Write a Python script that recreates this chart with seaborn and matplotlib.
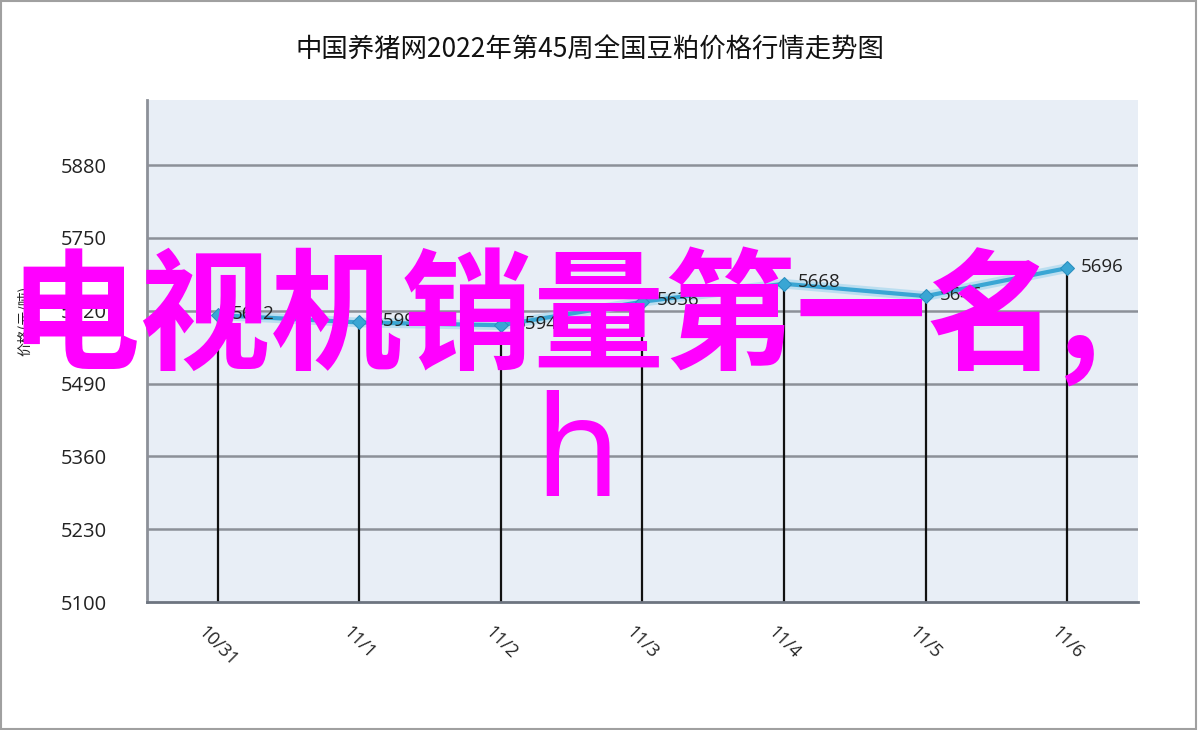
import numpy as np
import pandas as pd
import matplotlib
matplotlib.use("Agg")
import matplotlib.pyplot as plt
import seaborn as sns
from matplotlib.ticker import FixedLocator
from matplotlib.patches import Rectangle

# data
dates = ["10/31", "11/1", "11/2", "11/3", "11/4", "11/5", "11/6"]
prices = [5612, 5599, 5594, 5636, 5668, 5646, 5696]
yticks = [5100, 5230, 5360, 5490, 5620, 5750, 5880]

title = "中国养猪网2022年第45周全国豆粕价格行情走势图"
ylabel = "价格(元/吨)"
overlay_1 = "电视机销量第一名,"
overlay_2 = "h"

df = pd.DataFrame({"date": dates, "price": prices})
df["pos"] = np.arange(len(df))

sns.set_style("white")
plt.rcParams["font.family"] = ["Noto Sans CJK SC", "DejaVu Sans"]
num_font = ["Open Sans", "DejaVu Sans"]

fig = plt.figure(figsize=(12, 7.3), dpi=100)
ax = fig.add_axes([0.1225, 0.1753, 0.8258, 0.6877])
ax.set_facecolor("#e8eef6")

# horizontal grid
for y in yticks[1:]:
    ax.axhline(y, color="#8c9098", lw=1.8, zorder=1)

# drop lines from each point to the axis
ax.vlines(df["pos"], yticks[0], df["price"], color="#111111", lw=1.6, zorder=2)

# glow + line
ax.plot(df["pos"], df["price"], color="#a9d8ee", lw=7, alpha=0.7, zorder=3)
sns.lineplot(data=df, x="pos", y="price", ax=ax, color="#3aa6d4", lw=3,
             marker="D", markersize=7, markeredgecolor="#2a8fbf", zorder=4)

for x, y in zip(df["pos"], df["price"]):
    ax.annotate(f"{y}", (x, y), xytext=(10, 1), textcoords="offset points",
                ha="left", va="center", fontsize=13.5, color="#222222",
                family=num_font, zorder=5)

ax.set_xlim(-0.5, len(dates) - 0.5)
ax.set_ylim(yticks[0], 5996)
ax.set_yticks(yticks)
ax.set_yticklabels([str(v) for v in yticks], family=num_font,
                   fontsize=14.5, color="#222222")
ax.set_xticks(df["pos"])
ax.set_xticklabels(dates, rotation=-45, ha="center", va="top", fontsize=13,
                   family=num_font, color="#222222")
ax.tick_params(axis="x", length=0, pad=15)
ax.tick_params(axis="y", length=0, pad=29)
ax.xaxis.set_minor_locator(FixedLocator(np.arange(len(dates)) + 0.5))
ax.tick_params(axis="x", which="minor", direction="in", length=6, width=1.2, color="#444444")
ax.set_xlabel("")
ax.set_ylabel("")

for side in ["top", "right"]:
    ax.spines[side].set_visible(False)
ax.spines["left"].set_color("#8c9098")
ax.spines["left"].set_linewidth(2)
ax.spines["bottom"].set_color("#6d7480")
ax.spines["bottom"].set_linewidth(2)

fig.text(0.492, 0.931, title, ha="center", va="center", fontsize=19,
         color="#111111", weight="medium")
fig.text(0.021, 0.56, ylabel, rotation=90, ha="center", va="center", fontsize=10,
         color="#222222")

# outer frame
fig.patches.append(Rectangle((0.001, 0.002), 0.996, 0.996, transform=fig.transFigure,
                             fill=False, edgecolor="#a0a0a0", lw=1.5))

# magenta overlay text
fig.text(0.462, 0.565, overlay_1, ha="center", va="center", fontsize=94.5,
         color="#ff00ff", weight="bold")
fig.text(0.481, 0.371, overlay_2, ha="center", va="center", fontsize=100,
         color="#ff00ff", family=["Noto Sans", "DejaVu Sans"])

fig.savefig("out.png", dpi=100)
